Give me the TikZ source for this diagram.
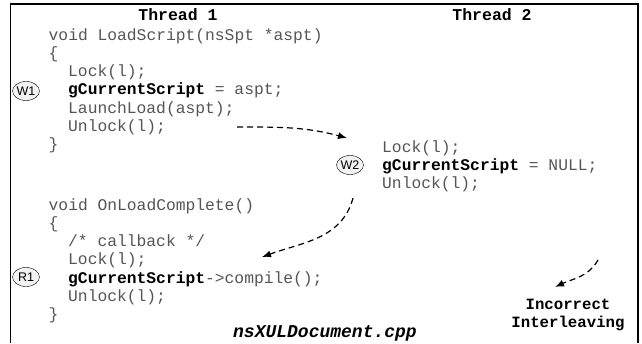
\documentclass[tikz,border=0pt]{standalone}
\usepackage{fontspec}
\setmonofont{Liberation Mono}
\setsansfont{Liberation Sans}
\usetikzlibrary{shapes.geometric,arrows.meta}
\definecolor{codegray}{RGB}{85,85,85}
\definecolor{tagfill}{RGB}{242,242,242}
\newcommand{\gvar}{\textbf{\textcolor{black}{gCurrentScript}}}

\begin{document}
\begin{tikzpicture}[
x=1pt,y=-1pt,
codeline/.style={
  anchor=base west,
  inner sep=0pt,
  text=codegray,
  font=\ttfamily\fontsize{16.3}{18}\selectfont
  },
title/.style={
  anchor=base,
  inner sep=0pt,
  font=\ttfamily\bfseries\fontsize{16.5}{18}\selectfont
  },
tag/.style={
  ellipse,
  draw,
  fill=tagfill,
  minimum width=27pt,
  minimum height=19pt,
  inner sep=0pt,
  font=\sffamily\fontsize{12.5}{14}\selectfont
  },
flow/.style={
  dash pattern=on 6pt off 4pt,
  line width=1.2pt,
  -{Latex[length=9pt,width=7pt]}
  }
]
\useasboundingbox (0,0) rectangle (642,343);
\draw[line width=1.4pt] (10.5,343) -- (10.5,4) -- (638,4) -- (638,343);

\node[title] (th1) at (178,20) {Thread 1};
\node[title] (th2) at (492,20) {Thread 2};

% LoadScript
\node[codeline] (ls)       at (48.5,40)   {void LoadScript(nsSpt *aspt)};
\node[codeline] (lsopen)   at (48.5,58.3) {\{};
\node[codeline] (lslock)   at (68,76.6)   {Lock(l);};
\node[codeline] (lsw)      at (68,94.9)   {\gvar{} = aspt;};
\node[codeline] (lsload)   at (68,113.2)  {LaunchLoad(aspt);};
\node[codeline] (lsunlock) at (68,131.5)  {Unlock(l);};
\node[codeline] (lsclose)  at (48.5,149.8) {\}};
\node[tag] (w1) at (26,91) {W1};

% thread 2
\node[codeline] (tlock)   at (382,152) {Lock(l);};
\node[codeline] (tw)      at (382,170) {\gvar{} = NULL;};
\node[codeline] (tunlock) at (382,188) {Unlock(l);};
\node[tag] (w2) at (350,165) {W2};

% OnLoadComplete
\node[codeline] (olc)       at (48.5,210)   {void OnLoadComplete()};
\node[codeline] (olcopen)   at (48.5,228.3) {\{};
\node[codeline] (olccb)     at (68,246.6)   {/* callback */};
\node[codeline] (olclock)   at (68,264.9)   {Lock(l);};
\node[codeline] (olcr)      at (68,283.2)   {\gvar->compile();};
\node[codeline] (olcunlock) at (68,301.5)   {Unlock(l);};
\node[codeline] (olcclose)  at (48.5,319.8) {\}};
\node[tag] (r1) at (26,277) {R1};

\node[anchor=base,inner sep=0pt,font=\ttfamily\bfseries\itshape\fontsize{18}{20}\selectfont] (file) at (325,337) {nsXULDocument.cpp};
\node[align=center,inner sep=0pt,font=\ttfamily\bfseries\fontsize{15.7}{18}\selectfont] (bug) at (568,315) {Incorrect\\Interleaving};

\coordinate (f1) at (237,127);
\coordinate (f2) at (347,138);
\coordinate (f3) at (353,198);
\coordinate (f4) at (262,257);
\coordinate (f5) at (598,260);
\coordinate (f6) at (555,287);
\draw[flow] (f1) to[out=0,in=165] (f2);
\draw[flow] (f3) to[out=255,in=20] (f4);
\draw[flow] (f5) to[out=240,in=25] (f6);
\end{tikzpicture}
\end{document}
